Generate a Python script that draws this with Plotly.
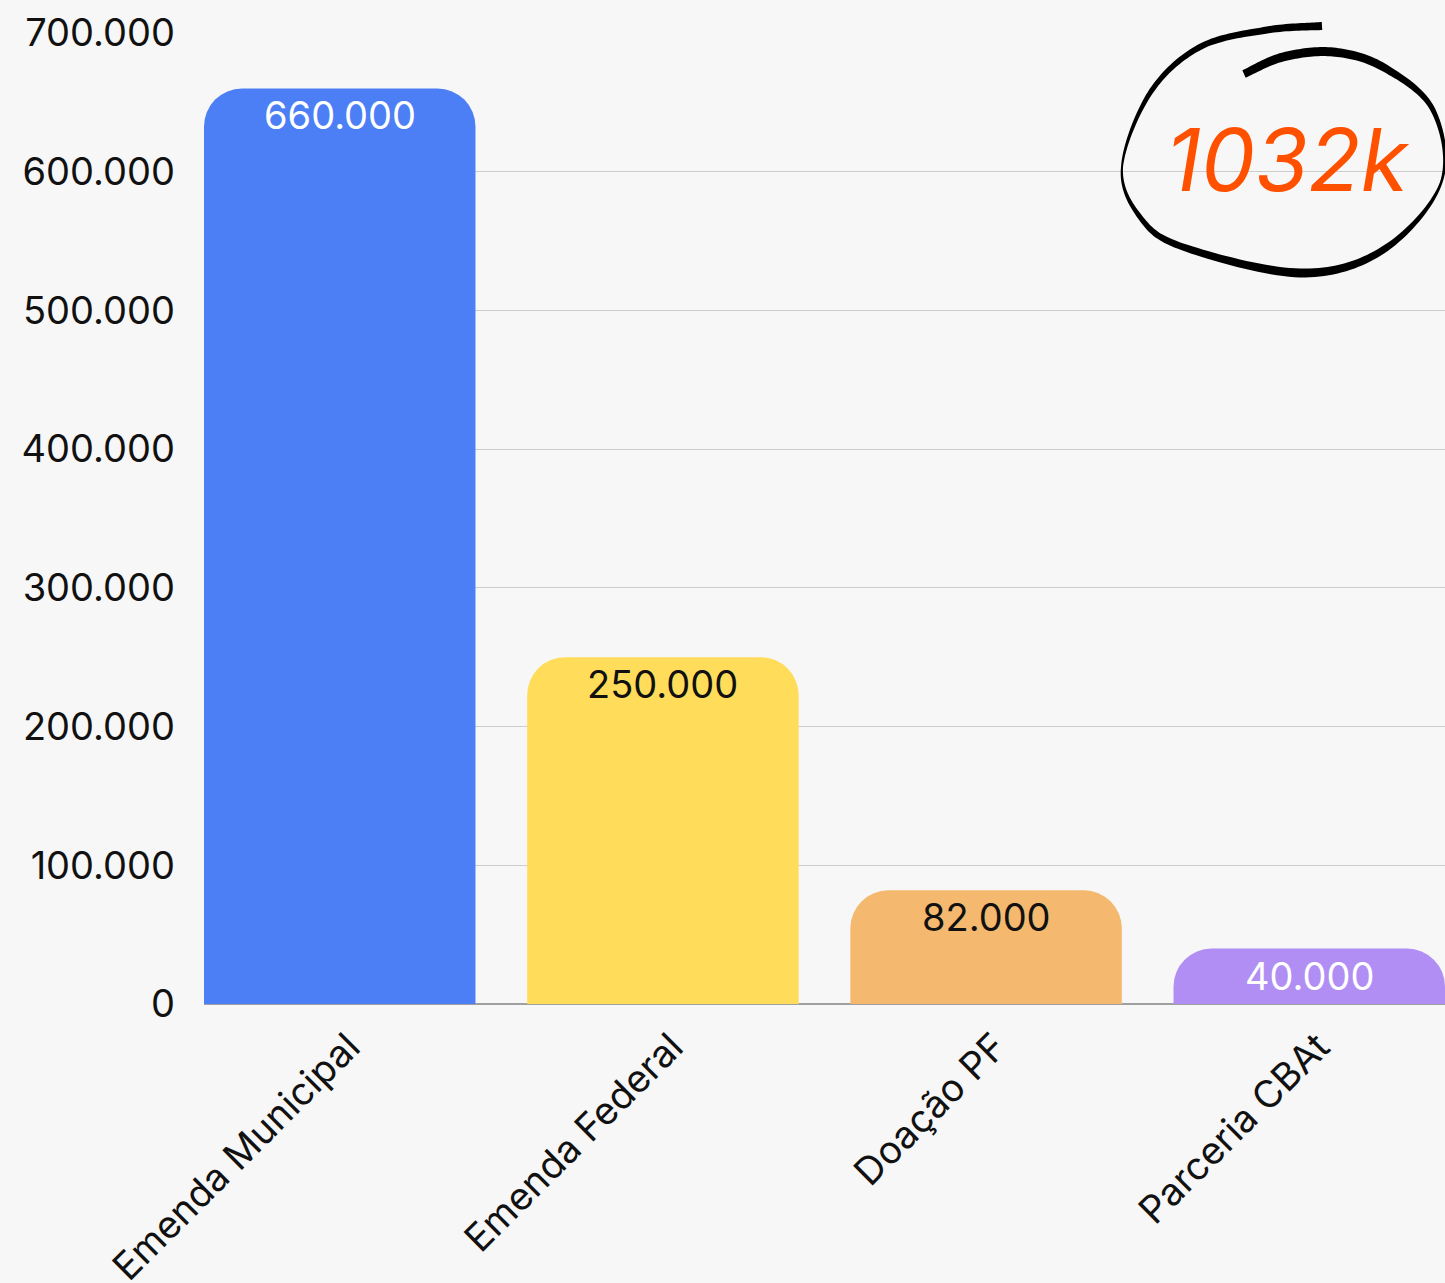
import numpy as np
import plotly.graph_objects as go

# ---------------- data ----------------
categories = ["Emenda Municipal", "Emenda Federal", "Doação PF", "Parceria CBAt"]
values = [660000, 250000, 82000, 40000]
bar_colors = ["#4c7ff6", "#ffdd5a", "#f4b86e", "#b08ef3"]
text_colors = ["#ffffff", "#111111", "#111111", "#ffffff"]
y_tick_values = [0, 100000, 200000, 300000, 400000, 500000, 600000, 700000]
total_label = "1032k"

# ---------------- layout constants ----------------
W, H = 1445, 1283
L, R, T, B = 204, 0, 33, 279
PW, PH = W - L - R, H - T - B
FONT = "Inter, 'Noto Sans', sans-serif"
FS = 38


def to_paper(px, py):
    return (px - L) / PW, (H - B - py) / PH


fig = go.Figure(
    go.Bar(
        x=categories,
        y=values,
        marker=dict(color=bar_colors, line=dict(width=0)),
        width=0.84,
        hoverinfo="skip",
    )
)

# value labels at the top inside of each bar
for cat, val, col in zip(categories, values, text_colors):
    fig.add_annotation(
        x=cat, y=val, xref="x", yref="y", text=f"{val:,}".replace(",", "."),
        showarrow=False, xanchor="center", yanchor="top", yshift=-2,
        font=dict(family=FONT, size=FS, color=col),
    )

# ---------------- hand-drawn ellipse around total ----------------
pts = np.array([
    (1322, 26), (1267, 30), (1200, 47), (1150, 93), (1122, 167), (1140, 217),
    (1183, 247), (1300, 273), (1383, 250), (1441, 183), (1433, 110), (1383, 67),
    (1333, 52), (1283, 57), (1244, 74),
], dtype=float)
wid = np.array([8, 7, 6, 5, 2, 5, 7, 9, 7, 2.5, 5, 8, 9, 9, 8], dtype=float)

ext = np.vstack([pts[0], pts, pts[-1]])
curve, cw = [], []
n_seg = len(pts) - 1
for i in range(n_seg):
    p0, p1, p2, p3 = ext[i], ext[i + 1], ext[i + 2], ext[i + 3]
    for t in np.linspace(0, 1, 20, endpoint=(i == n_seg - 1)):
        t2, t3 = t * t, t * t * t
        p = 0.5 * ((2 * p1) + (-p0 + p2) * t + (2 * p0 - 5 * p1 + 4 * p2 - p3) * t2
                   + (-p0 + 3 * p1 - 3 * p2 + p3) * t3)
        curve.append(p)
        cw.append(wid[i] * (1 - t) + wid[i + 1] * t)
curve = np.array(curve)
cw = np.array(cw)
tan = np.gradient(curve, axis=0)
tan /= np.linalg.norm(tan, axis=1)[:, None]
nrm = np.stack([-tan[:, 1], tan[:, 0]], axis=1)
left = curve + nrm * cw[:, None] / 2
right = curve - nrm * cw[:, None] / 2
poly = np.vstack([left, right[::-1]])
path = "M " + " L ".join(f"{a:.5f},{b:.5f}" for a, b in (to_paper(x, y) for x, y in poly)) + " Z"

fig.add_shape(type="path", path=path, xref="paper", yref="paper",
              fillcolor="#000000", line=dict(width=0), layer="above")

ax, ay = to_paper(1288, 160)
fig.add_annotation(
    x=ax, y=ay, xref="paper", yref="paper", text=total_label, showarrow=False,
    xanchor="center", yanchor="middle",
    font=dict(family=FONT, size=86, color="#ff5000", style="italic"),
)

fig.update_layout(
    width=W, height=H,
    margin=dict(l=L, r=R, t=T, b=B, pad=0, autoexpand=False),
    paper_bgcolor="#f7f7f7", plot_bgcolor="#f7f7f7",
    separators=",.",
    showlegend=False,
    barcornerradius=38,
    font=dict(family=FONT, size=FS, color="#111111"),
    xaxis=dict(
        range=[-0.42, 3.42], tickangle=-45, showgrid=False, zeroline=False,
        showline=False, ticks="", ticklabelstandoff=12, ticklabelshift=9,
        automargin=False,
        tickfont=dict(family=FONT, size=FS, color="#111111"),
    ),
    yaxis=dict(
        range=[0, 700000], tickvals=y_tick_values, tickformat=",d",
        showgrid=True, gridcolor="#cccccc", gridwidth=1,
        zeroline=True, zerolinecolor="#a0a0a0", zerolinewidth=2,
        ticks="", ticklabelstandoff=28, automargin=False,
        tickfont=dict(family=FONT, size=FS, color="#111111"),
    ),
)

fig.write_html(
    "out.html",
    config={"displayModeBar": False},
    post_script="document.body.style.margin='0px';document.body.style.overflow='hidden';",
)
